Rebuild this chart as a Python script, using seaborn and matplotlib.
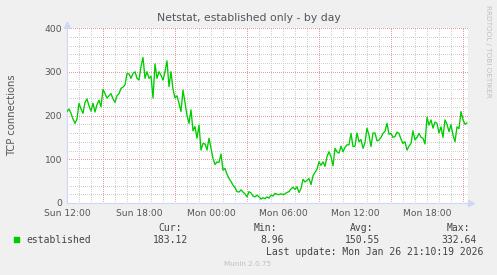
import numpy as np
import pandas as pd
import matplotlib
matplotlib.use("Agg")
import matplotlib.pyplot as plt
import matplotlib.dates as mdates
from matplotlib.ticker import FixedLocator
import seaborn as sns

# ---------------- data ----------------
title = "Netstat, established only - by day"
ylabel = "TCP connections"
series_name = "established"
xtick_hours = [0, 6, 12, 18, 24, 30]
xtick_labels = ["Sun 12:00", "Sun 18:00", "Mon 00:00", "Mon 06:00", "Mon 12:00", "Mon 18:00"]
ytick_values = [0, 100, 200, 300, 400]
stat_labels = ["Cur:", "Min:", "Avg:", "Max:"]
stat_values = ["183.12", "8.96", "150.55", "332.64"]
last_update = "Last update: Mon Jan 26 21:10:19 2026"
footer = "Munin 2.0.75"
watermark = "RRDTOOL / TOBI OETIKER"

# 10-minute samples starting Sun 12:00
conn_sun_12_18 = [209, 215, 205, 192, 182, 192,
                  228, 215, 205, 230, 238, 222,
                  210, 228, 208, 225, 235, 220,
                  260, 250, 240, 245, 250, 238,
                  230, 245, 250, 262, 265, 270,
                  296, 295, 285, 296, 300, 285]
conn_sun_18_24 = [281, 312, 332.64, 285, 300, 285,
                  290, 240, 318, 285, 300, 292,
                  281, 300, 325, 266, 300, 260,
                  240, 245, 228, 209, 258, 230,
                  200, 182, 213, 165, 175, 148,
                  178, 121, 136, 135, 121, 148]
conn_mon_00_06 = [125, 102, 88, 94, 93, 112,
                  75, 79, 66, 56, 49, 41,
                  35, 26, 25, 30, 25, 21,
                  14, 26, 23, 16, 14, 18,
                  14, 8.96, 12, 10, 14, 11,
                  18, 16, 22, 20, 19, 21]
conn_mon_06_12 = [19, 21, 24, 26, 32, 36,
                  31, 37, 24, 33, 54, 48,
                  52, 56, 42, 62, 70, 77,
                  94, 86, 94, 84, 106, 117,
                  106, 85, 125, 117, 114, 130,
                  117, 127, 133, 133, 159, 129]
conn_mon_12_18 = [130, 160, 140, 145, 125, 138,
                  171, 155, 129, 160, 160, 142,
                  144, 150, 159, 164, 182, 157,
                  159, 150, 152, 162, 159, 146,
                  136, 140, 121, 130, 136, 165,
                  144, 150, 159, 150, 148, 135]
conn_mon_18_end = [196, 178, 190, 171, 185, 182,
                   160, 174, 150, 190, 180, 163,
                   179, 155, 140, 174, 170, 209,
                   190, 180, 183.12]

values = (conn_sun_12_18 + conn_sun_18_24 + conn_mon_00_06 +
          conn_mon_06_12 + conn_mon_12_18 + conn_mon_18_end)
start = pd.Timestamp("2026-01-25 12:00")
times = pd.date_range(start, periods=len(values), freq="10min")
df = pd.DataFrame({"time": times, "connections": values})

# ---------------- figure ----------------
W, H = 497, 275
sns.set_style("white")
plt.rcParams["font.family"] = ["DejaVu Sans"]
fig = plt.figure(figsize=(W / 100, H / 100), dpi=100, facecolor="#f0f0f0")

def fx(px):
    return px / W

def fy(py):
    return 1 - py / H

ax = fig.add_axes([fx(67), fy(203), fx(468) - fx(67), fy(28) - fy(203)])
ax.set_facecolor("white")

sns.lineplot(data=df, x="time", y="connections", color="#00cc00",
             linewidth=0.95, ax=ax, zorder=5, legend=False)

t0 = mdates.date2num(start)
ax.set_xlim(t0, t0 + (401 / 12) / 24)
ax.set_ylim(0, 400)

# grid layout: hourly / every 20 minor; red major every 6 h (offset 3 h) and every 100
red_hours = [3, 9, 15, 21, 27, 33]
minor_hours = [h for h in range(0, 34) if h not in red_hours]
ax.set_xticks([t0 + h / 24 for h in xtick_hours])
ax.set_xticklabels(xtick_labels)
ax.xaxis.remove_overlapping_locs = False
ax.xaxis.set_minor_locator(FixedLocator([t0 + h / 24 for h in minor_hours]))
ax.set_yticks(ytick_values)
ax.set_yticklabels([str(v) for v in ytick_values])
ax.yaxis.set_minor_locator(FixedLocator([v for v in range(20, 400, 20) if v % 100]))

dot = (0.25, (0.99, 1.01))
grid_kw = dict(linestyle=dot, linewidth=0.72, antialiased=False)
gray, red = "#d0d0d0", "#ec9a9a"
axis_col = "#cfd6f8"
ax.set_axisbelow(True)
ax.grid(which="minor", axis="both", color=gray, **grid_kw)
ax.grid(which="major", axis="y", color=red, **grid_kw)
ax.grid(False, which="major", axis="x")
for h in red_hours:
    ax.axvline(t0 + h / 24, color=red, zorder=1, **grid_kw)

ax.tick_params(axis="x", which="major", length=0, labelsize=6.6,
               labelcolor="#555555", pad=4)
ax.tick_params(axis="y", which="major", length=2, color=red, width=0.72,
               labelsize=6.6, labelcolor="#555555", pad=1.5)
ax.tick_params(axis="both", which="minor", length=2, color="#c8c8c8", width=0.72)
ax.set_xlabel("")
ax.set_ylabel(ylabel, fontsize=7.2, color="#555555", labelpad=20)

for s in ["top", "right"]:
    ax.spines[s].set_visible(False)
for s in ["left", "bottom"]:
    ax.spines[s].set_color(axis_col)
    ax.spines[s].set_linewidth(0.8)

# axis arrows
ax.plot([0], [1.02], marker="^", markersize=4, color=axis_col,
        transform=ax.transAxes, clip_on=False)
ax.plot([1.008], [0], marker=">", markersize=4, color=axis_col,
        transform=ax.transAxes, clip_on=False)

# title and watermark
fig.text(fx(249), fy(18), title, ha="center", va="center", fontsize=7.8, color="#555555")
fig.text(fx(488), fy(5), watermark, ha="center", va="top", rotation=270,
         fontsize=5.2, color="#c0c0c0")

# legend block
mono = "DejaVu Sans Mono"
fig.patches.append(plt.Rectangle((fx(14), fy(242)), fx(5), fy(237) - fy(242),
                                 transform=fig.transFigure, color="#00cc00"))
fig.text(fx(26), fy(240), series_name, family=mono, fontsize=7.0, color="#444444",
         va="center", ha="left")
label_right = [182, 277, 373, 470]
value_right = [188, 284, 380, 477]
for lab, xr in zip(stat_labels, label_right):
    fig.text(fx(xr), fy(228), lab, family=mono, fontsize=7.0, color="#444444",
             va="center", ha="right")
for val, xr in zip(stat_values, value_right):
    fig.text(fx(xr), fy(240), val, family=mono, fontsize=7.0, color="#444444",
             va="center", ha="right")
fig.text(fx(483), fy(252), last_update, family=mono, fontsize=7.0, color="#444444",
         va="center", ha="right")
fig.text(fx(248), fy(264), footer, fontsize=5.2, color="#c0c0c0",
         va="center", ha="center")

fig.savefig("out.png", dpi=100, facecolor=fig.get_facecolor())
